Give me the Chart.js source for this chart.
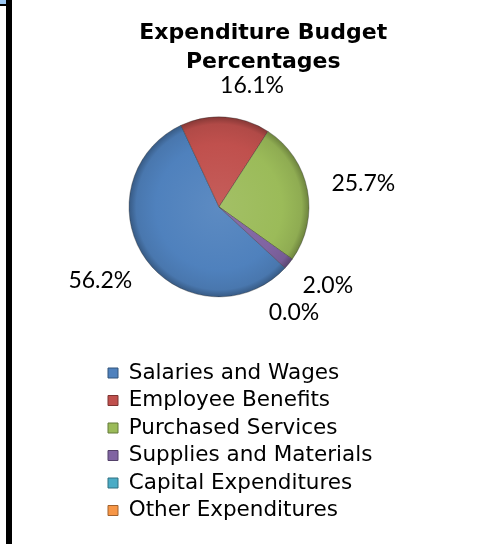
<!DOCTYPE html>
<html>
<head>
<meta charset="utf-8">
<title>Expenditure Budget Percentages</title>
<script src="https://cdn.jsdelivr.net/npm/chart.js@4.4.1/dist/chart.umd.min.js"></script>
<style>
  html, body { margin: 0; padding: 0; background: #fff; }
  #wrap { position: relative; width: 478px; height: 544px; overflow: hidden; }
  #myChart { position: absolute; left: 0; top: 0; }
  .edge { position: absolute; background: #000; }
</style>
</head>
<body>
<div id="wrap">
  <canvas id="myChart" width="478" height="544"></canvas>
  <div class="edge" style="left:6px;top:0;width:6px;height:544px"></div>
  <div class="edge" style="left:0;top:4px;width:6px;height:2px"></div>
  <div style="position:absolute;left:0;top:0;width:6px;height:4px;background:#9cc8f4"></div>
</div>
<script>
var titleLines = ['Expenditure Budget', 'Percentages'];
var categories = ['Salaries and Wages', 'Employee Benefits', 'Purchased Services',
                  'Supplies and Materials', 'Capital Expenditures', 'Other Expenditures'];
// percent of total budget; Other has no value so it gets no label
var percentages = [56.2, 16.1, 25.7, 2.0, 0.0, null];
var sliceColors = ['#4f81bd', '#c0504d', '#9bbb59', '#8064a2', '#4bacc6', '#f79646'];

var PIE_RADIUS = 90;
var PIE_SHIFT = -44.25;   // pie sits left of the legend/title column
var LABEL_GAP = 25;
var LABEL_MARGIN = 6;
var TITLE_FONT = 'bold 22px "DejaVu Sans"';
var LABEL_FONT = '23px Lato';

// lighten (amt > 0) or darken (amt < 0) a hex colour
function shade(hex, amt) {
  var n = parseInt(hex.slice(1), 16);
  var c = [(n >> 16) & 255, (n >> 8) & 255, n & 255].map(function (v) {
    var t = amt > 0 ? v + (255 - v) * amt : v * (1 + amt);
    return Math.round(Math.max(0, Math.min(255, t)));
  });
  return 'rgb(' + c.join(',') + ')';
}

// radial shading so each slice is lighter inside and darker at the rim
function sliceFill(context) {
  var chart = context.chart;
  var base = sliceColors[context.dataIndex];
  var area = chart.chartArea;
  if (!area) return base;
  var cx = (area.left + area.right) / 2;
  var cy = (area.top + area.bottom) / 2;
  var g = chart.ctx.createRadialGradient(cx, cy, 0, cx, cy, PIE_RADIUS);
  g.addColorStop(0, shade(base, 0.08));
  g.addColorStop(0.7, base);
  g.addColorStop(0.92, shade(base, -0.08));
  g.addColorStop(1, shade(base, -0.3));
  return g;
}

// two centred title lines over the legend column
function titleBoxes(chart) {
  var ctx = chart.ctx;
  var cx = (chart.legend.left + chart.legend.right) / 2;
  ctx.save();
  ctx.font = TITLE_FONT;
  var boxes = titleLines.map(function (line, i) {
    var w = ctx.measureText(line).width;
    var y = 33 + i * 29;
    return { text: line, x: cx, y: y, l: cx - w / 2, r: cx + w / 2, t: y - 11, b: y + 13, m: 0 };
  });
  ctx.restore();
  return boxes;
}

var shiftPie = {
  id: 'shiftPie',
  afterLayout: function (chart) {
    chart.chartArea.left += PIE_SHIFT;
    chart.chartArea.right += PIE_SHIFT;
  }
};

var titlePlugin = {
  id: 'budgetTitle',
  afterDraw: function (chart) {
    var ctx = chart.ctx;
    ctx.save();
    ctx.font = TITLE_FONT;
    ctx.fillStyle = '#000';
    ctx.textAlign = 'center';
    ctx.textBaseline = 'middle';
    titleBoxes(chart).forEach(function (b) {
      ctx.fillText(b.text, b.x, b.y);
    });
    ctx.restore();
  }
};

// percentage labels outside each slice, nudged round the pie when they collide
var sliceLabels = {
  id: 'sliceLabels',
  afterDatasetsDraw: function (chart) {
    var ctx = chart.ctx;
    var meta = chart.getDatasetMeta(0);
    var placed = titleBoxes(chart);
    ctx.save();
    ctx.font = LABEL_FONT;
    ctx.fillStyle = '#000';
    ctx.textAlign = 'center';
    ctx.textBaseline = 'middle';
    meta.data.forEach(function (arc, i) {
      var value = percentages[i];
      if (value === null) return;
      var p = arc.getProps(['x', 'y', 'startAngle', 'endAngle', 'outerRadius'], true);
      var text = value.toFixed(1) + '%';
      var w = ctx.measureText(text).width;
      var h = 20;
      var mid = (p.startAngle + p.endAngle) / 2;
      var box;
      for (var step = 0; step < 90; step++) {
        var a = mid + step * Math.PI / 180;
        var ax = p.x + Math.cos(a) * (p.outerRadius + LABEL_GAP);
        var ay = p.y + Math.sin(a) * (p.outerRadius + LABEL_GAP);
        var bx = ax + Math.cos(a) * w / 2;
        var by = ay + Math.sin(a) * h / 2;
        box = { l: bx - w / 2, r: bx + w / 2, t: by - h / 2, b: by + h / 2, x: bx, y: by, m: LABEL_MARGIN };
        var hit = placed.some(function (o) {
          return box.l < o.r && box.r > o.l && box.t < o.b + o.m && box.b > o.t;
        });
        if (!hit) break;
      }
      placed.push(box);
      ctx.fillText(text, box.x, box.y);
    });
    ctx.restore();
  }
};

var ctx = document.getElementById('myChart').getContext('2d');
var chart = new Chart(ctx, {
  type: 'pie',
  data: {
    labels: categories,
    datasets: [{
      data: percentages,
      backgroundColor: sliceFill,
      borderColor: 'rgba(40,40,40,0.35)',
      borderWidth: percentages.map(function (v) { return v ? 1 : 0; })
    }]
  },
  options: {
    responsive: false,
    animation: false,
    rotation: 132.7,
    radius: PIE_RADIUS,
    layout: {
      padding: { top: 57.5, bottom: 12.75, left: 102, right: 53.5 }
    },
    plugins: {
      title: { display: false },
      tooltip: { enabled: false },
      legend: {
        position: 'bottom',
        align: 'start',
        labels: {
          boxWidth: 10,
          boxHeight: 10,
          padding: 6,
          color: '#000',
          font: { family: '"DejaVu Sans"', size: 21.5 },
          generateLabels: function (chart) {
            return categories.map(function (name, i) {
              return {
                text: name,
                fillStyle: sliceColors[i],
                strokeStyle: shade(sliceColors[i], -0.35),
                lineWidth: 1,
                hidden: false,
                index: i
              };
            });
          }
        }
      }
    }
  },
  plugins: [shiftPie, titlePlugin, sliceLabels]
});
</script>
</body>
</html>
